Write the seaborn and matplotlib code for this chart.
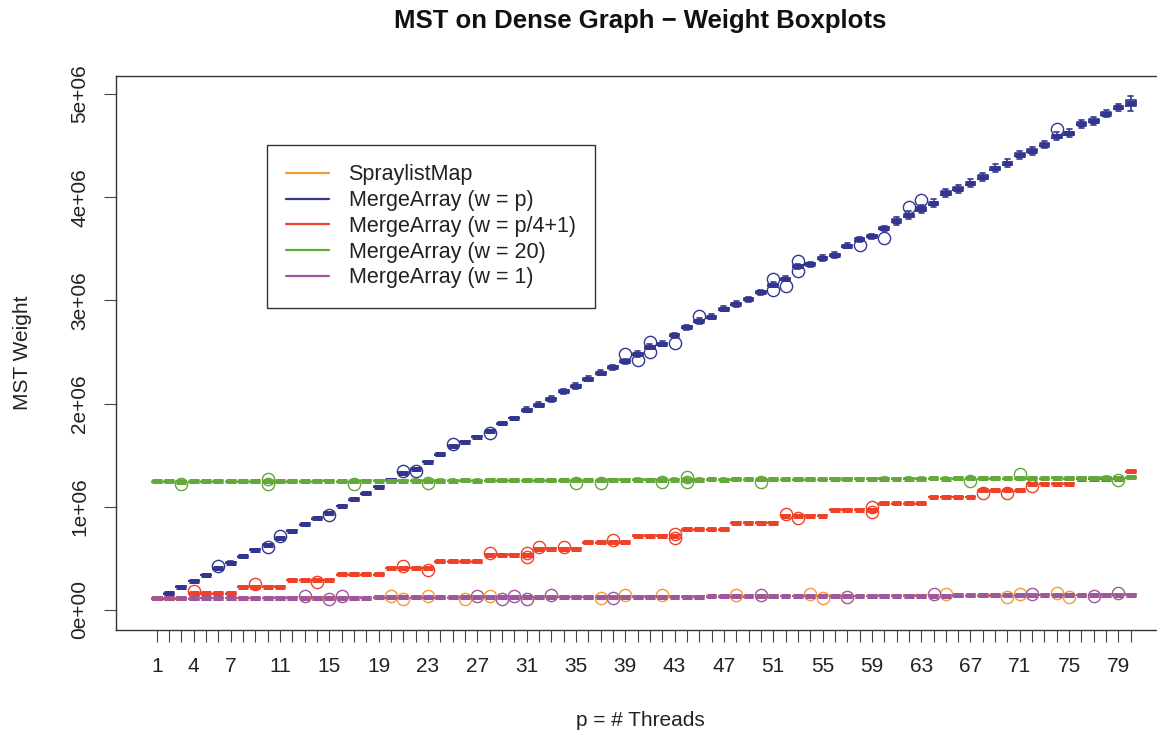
import matplotlib
matplotlib.use("Agg")
import matplotlib.pyplot as plt
from matplotlib.lines import Line2D
import pandas as pd
import seaborn as sns

# ---------------------------------------------------------------- data
threads = list(range(1, 81))

series_names = [
    "SpraylistMap",
    "MergeArray (w = p)",
    "MergeArray (w = p/4+1)",
    "MergeArray (w = 20)",
    "MergeArray (w = 1)",
]

# median MST weight per thread count
spraylist_median = [
    113000, 113000, 114000, 114000, 115000, 115000, 116000, 116000, 117000, 117000,
    117000, 118000, 118000, 119000, 119000, 119000, 120000, 120000, 121000, 121000,
    122000, 122000, 122000, 123000, 123000, 124000, 124000, 124000, 125000, 125000,
    125000, 126000, 126000, 126000, 127000, 127000, 127000, 128000, 128000, 128000,
    129000, 129000, 130000, 130000, 130000, 131000, 131000, 132000, 132000, 133000,
    133000, 134000, 134000, 135000, 135000, 136000, 136000, 137000, 137000, 138000,
    138000, 139000, 139000, 140000, 140000, 141000, 141000, 142000, 142000, 143000,
    143000, 144000, 144000, 145000, 145000, 146000, 146000, 147000, 147000, 148000,
]

w_p_median = [
    113000, 162000, 226000, 281000, 339000, 404000, 460000, 520000, 585000, 632000,
    695000, 768000, 830000, 888000, 943000, 1008000, 1073000, 1130000, 1195000, 1262000,
    1330000, 1370000, 1437000, 1509000, 1589000, 1630000, 1680000, 1730000, 1810000, 1860000,
    1940000, 1990000, 2045000, 2120000, 2170000, 2240000, 2300000, 2350000, 2410000, 2480000,
    2550000, 2580000, 2660000, 2740000, 2800000, 2840000, 2920000, 2965000, 3010000, 3080000,
    3150000, 3210000, 3330000, 3350000, 3410000, 3440000, 3530000, 3590000, 3620000, 3700000,
    3770000, 3825000, 3885000, 3940000, 4040000, 4080000, 4135000, 4195000, 4280000, 4330000,
    4410000, 4450000, 4510000, 4590000, 4620000, 4710000, 4740000, 4810000, 4870000, 4910000,
]

w_quarter_median = [
    113000, 113000, 113000, 162000, 162000, 162000, 162000, 226000, 226000, 226000,
    226000, 290000, 290000, 290000, 290000, 346000, 346000, 346000, 346000, 407000,
    407000, 407000, 407000, 470000, 470000, 470000, 470000, 534000, 534000, 534000,
    534000, 592000, 592000, 592000, 592000, 657000, 657000, 657000, 657000, 718000,
    718000, 718000, 718000, 783000, 783000, 783000, 783000, 845000, 845000, 845000,
    845000, 912000, 912000, 912000, 912000, 970000, 970000, 970000, 970000, 1035000,
    1035000, 1035000, 1035000, 1094000, 1094000, 1094000, 1094000, 1160000, 1160000, 1160000,
    1160000, 1223000, 1223000, 1223000, 1223000, 1270000, 1270000, 1270000, 1270000, 1343000,
]

w20_median = [
    1245000, 1246000, 1244000, 1247000, 1245000, 1246000, 1248000, 1246000, 1247000, 1246000,
    1248000, 1247000, 1249000, 1248000, 1250000, 1248000, 1249000, 1251000, 1250000, 1252000,
    1251000, 1253000, 1252000, 1253000, 1253000, 1255000, 1254000, 1255000, 1255000, 1257000,
    1256000, 1257000, 1257000, 1259000, 1258000, 1259000, 1259000, 1261000, 1260000, 1262000,
    1261000, 1262000, 1262000, 1264000, 1263000, 1265000, 1264000, 1265000, 1265000, 1267000,
    1266000, 1268000, 1267000, 1268000, 1268000, 1270000, 1269000, 1271000, 1270000, 1272000,
    1271000, 1272000, 1272000, 1274000, 1273000, 1274000, 1274000, 1276000, 1275000, 1277000,
    1276000, 1277000, 1277000, 1279000, 1278000, 1280000, 1279000, 1281000, 1280000, 1284000,
]

w1_median = [
    113000, 113000, 114000, 114000, 115000, 115000, 116000, 116000, 117000, 117000,
    118000, 118000, 118000, 119000, 119000, 120000, 120000, 120000, 121000, 121000,
    122000, 122000, 123000, 123000, 123000, 124000, 124000, 124000, 125000, 125000,
    125000, 126000, 126000, 126000, 127000, 127000, 127000, 128000, 128000, 128000,
    129000, 129000, 130000, 130000, 130000, 131000, 131000, 132000, 132000, 133000,
    133000, 134000, 134000, 135000, 135000, 136000, 136000, 137000, 137000, 138000,
    138000, 139000, 139000, 140000, 140000, 141000, 141000, 142000, 142000, 143000,
    143000, 144000, 144000, 145000, 145000, 146000, 146000, 147000, 147000, 148000,
]

# half of the interquartile range of each box
spraylist_half_iqr = 3000
w_p_half_iqr = (
    [4000] * 30 + [10000] * 30 + [15000] * 19 + [30000]
)
w_quarter_half_iqr = 4000
w20_half_iqr = 5000
w1_half_iqr = 3000

# outlying runs: thread count -> MST weights
spraylist_outliers = {
    20: [135000], 21: [106000], 23: [137000], 26: [108000], 28: [139000],
    37: [112000], 39: [143000], 42: [144000], 48: [147000], 54: [150000],
    55: [120000], 65: [155000], 70: [128000], 71: [158000], 74: [160000],
    75: [130000],
}
w_p_outliers = {
    6: [424000], 10: [612000], 11: [715000], 15: [923000], 21: [1350000],
    22: [1350000], 25: [1610000], 28: [1710000], 39: [2480000], 40: [2420000],
    41: [2600000, 2500000], 43: [2590000], 45: [2850000],
    51: [3210000, 3100000], 52: [3140000], 53: [3380000, 3280000],
    58: [3540000], 60: [3600000], 62: [3900000], 63: [3970000], 74: [4660000],
}
w_quarter_outliers = {
    4: [182000], 9: [248000], 14: [272000], 21: [428000], 23: [388000],
    28: [554000], 31: [512000, 553000], 32: [612000], 34: [612000],
    38: [676000], 43: [697000, 740000], 52: [932000], 53: [892000],
    59: [948000, 993000], 68: [1138000], 70: [1138000], 72: [1198000],
}
w20_outliers = {
    3: [1220000], 10: [1222000, 1272000], 17: [1225000], 23: [1228000],
    35: [1234000], 37: [1235000], 42: [1238000], 44: [1240000, 1290000],
    50: [1242000], 67: [1248000], 71: [1322000], 79: [1255000],
}
w1_outliers = {
    13: [133000], 15: [104000], 16: [135000], 27: [139000], 29: [110000],
    30: [140000], 31: [110000], 33: [141000], 38: [113000], 50: [148000],
    57: [121000], 64: [155000], 72: [159000], 77: [131000], 79: [162000],
}

x_tick_labels = [1, 4, 7, 11, 15, 19, 23, 27, 31, 35, 39, 43, 47,
                 51, 55, 59, 63, 67, 71, 75, 79]
y_ticks = [0, 1000000, 2000000, 3000000, 4000000, 5000000]
y_tick_labels = ["0e+00", "1e+06", "2e+06", "3e+06", "4e+06", "5e+06"]

colors = ["#F39A3A", "#33368F", "#EE4128", "#62A83A", "#9E579C"]

# ------------------------------------------------- long-form observations
def runs_for(median, half, outliers):
    rows = []
    for i, p in enumerate(threads):
        m = median[i]
        h = half[i] if isinstance(half, list) else half
        reach = 2.5 * h
        vals = ([m - reach] + [m - h] * 4 + [m] * 2 + [m + h] * 4 + [m + reach])
        vals += outliers.get(p, [])
        rows += [(p, v) for v in vals]
    return rows

records = []
for name, med, half, out in zip(
    series_names,
    [spraylist_median, w_p_median, w_quarter_median, w20_median, w1_median],
    [spraylist_half_iqr, w_p_half_iqr, w_quarter_half_iqr, w20_half_iqr, w1_half_iqr],
    [spraylist_outliers, w_p_outliers, w_quarter_outliers, w20_outliers, w1_outliers],
):
    records += [(name, p, v) for p, v in runs_for(med, half, out)]

df = pd.DataFrame(records, columns=["series", "threads", "weight"])

# ---------------------------------------------------------------- figure
sns.set_style("ticks")
plt.rcParams["font.family"] = ["Liberation Sans", "DejaVu Sans"]

W, H = 1157, 734
fig = plt.figure(figsize=(W / 100, H / 100), dpi=100)
ax_left, ax_right, ax_top, ax_bottom = 116, 1170, 76, 630
ax = fig.add_axes([ax_left / W, 1 - ax_bottom / H,
                   (ax_right - ax_left) / W, (ax_bottom - ax_top) / H])

sns.boxplot(
    data=df, x="threads", y="weight", hue="series",
    hue_order=series_names, palette=colors, saturation=1,
    dodge=False, native_scale=True, fill=False, width=0.8,
    linewidth=1.2, whis=1.5, legend=False, ax=ax,
    medianprops=dict(linewidth=3.6),
    flierprops=dict(marker="o", markerfacecolor="none",
                    markersize=8.8, markeredgewidth=1.0),
)

ax.set_xlim(-2.30, 83.18)
ax.set_ylim(-194000, 5174000)

ax.set_xticks(threads)
ax.set_xticklabels([str(p) if p in x_tick_labels else "" for p in threads])
ax.set_yticks(y_ticks)
ax.set_yticklabels(y_tick_labels, rotation=90, va="center")

ax.tick_params(axis="both", which="major", direction="out", length=8.8,
               width=0.8, color="#444444", labelsize=15,
               labelcolor="#222222", bottom=True, left=True,
               top=False, right=False)
ax.tick_params(axis="x", pad=10.5)
ax.tick_params(axis="y", pad=10.4)
ax.set_xlabel("")
ax.set_ylabel("")

for s in ax.spines.values():
    s.set_visible(True)
    s.set_color("#333333")
    s.set_linewidth(1.0)

handles = [Line2D([], [], color=c, lw=1.6) for c in colors]
leg = ax.legend(
    handles, series_names, loc="upper left",
    bbox_to_anchor=((266.7 - ax_left) / (ax_right - ax_left),
                    (ax_bottom - 145) / (ax_bottom - ax_top)),
    borderaxespad=0, fontsize=15.5, frameon=True, fancybox=False,
    framealpha=1, edgecolor="#333333", handlelength=2.0,
    handletextpad=0.9, labelspacing=0.22, borderpad=0.9,
)
leg.get_frame().set_linewidth(1.0)
for t in leg.get_texts():
    t.set_color("#222222")

fig.text(640 / W, 1 - 21 / H, "MST on Dense Graph \u2212 Weight Boxplots",
         ha="center", va="center", fontsize=18.5, fontweight="bold",
         color="#111111")
fig.text(640 / W, 1 - 720 / H, "p = # Threads", ha="center", va="center",
         fontsize=15, color="#222222")
fig.text(23 / W, 1 - 353 / H, "MST Weight", ha="center", va="center",
         rotation=90, fontsize=15, color="#222222")

fig.savefig("out.png", dpi=100)
